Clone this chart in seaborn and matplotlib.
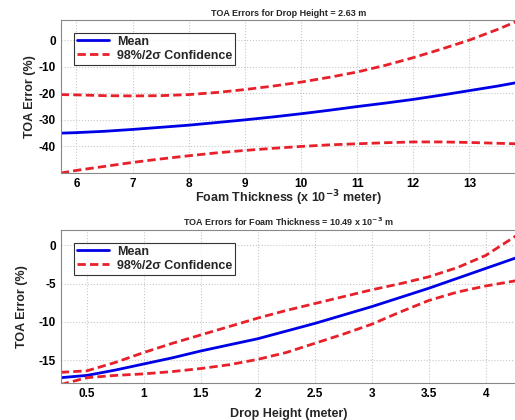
import matplotlib
matplotlib.use("Agg")
import matplotlib.pyplot as plt
import seaborn as sns
import pandas as pd

# Top panel: Foam thickness (x 10^-3 m)
foam_x = [5.72, 6.0, 6.5, 7.0, 7.5, 8.0, 8.5, 9.0, 9.5, 10.0, 10.5, 11.0, 11.5, 12.0, 12.5, 13.0, 13.5, 13.84]
foam_mean = [-35.0, -34.8, -34.3, -33.6, -32.8, -32.0, -31.0, -30.0, -28.9, -27.7, -26.4, -25.0, -23.7, -22.3, -20.7, -19.0, -17.3, -16.0]
foam_upper = [-20.5, -20.6, -20.9, -21.0, -20.9, -20.5, -19.7, -18.6, -17.3, -15.8, -14.0, -12.0, -9.5, -6.6, -3.4, 0.0, 4.0, 7.0]
foam_lower = [-50.0, -49.0, -47.5, -46.0, -44.7, -43.5, -42.4, -41.5, -40.7, -40.0, -39.4, -39.0, -38.6, -38.3, -38.3, -38.5, -38.8, -39.0]

# Bottom panel: Drop height (m)
drop_x = [0.27, 0.5, 0.75, 1.0, 1.25, 1.5, 1.75, 2.0, 2.25, 2.5, 2.75, 3.0, 3.25, 3.5, 3.75, 4.0, 4.27]
drop_mean = [-17.3, -17.0, -16.3, -15.5, -14.7, -13.8, -13.0, -12.2, -11.2, -10.2, -9.1, -8.0, -6.8, -5.6, -4.3, -3.0, -1.6]
drop_upper = [-16.6, -16.4, -15.3, -14.0, -12.8, -11.7, -10.6, -9.5, -8.5, -7.6, -6.7, -5.8, -5.0, -4.1, -2.9, -1.3, 1.3]
drop_lower = [-18.2, -17.3, -17.0, -16.8, -16.5, -16.1, -15.6, -14.9, -14.0, -12.8, -11.6, -10.3, -8.7, -7.2, -6.1, -5.3, -4.6]

sns.set_style("white")
plt.rcParams['font.family'] = ['Liberation Sans', 'DejaVu Sans']
plt.rcParams['font.weight'] = 'bold'
plt.rcParams['axes.labelweight'] = 'bold'
plt.rcParams['axes.titleweight'] = 'bold'
plt.rcParams['axes.unicode_minus'] = False

fig = plt.figure(figsize=(5.15, 4.2), dpi=100)
ax1 = fig.add_axes([0.118, 0.588, 0.885, 0.364])
ax2 = fig.add_axes([0.118, 0.088, 0.885, 0.364])


def draw(ax, x, mean, upper, lower):
    df = pd.DataFrame({"x": x, "mean": mean, "upper": upper, "lower": lower})
    sns.lineplot(data=df, x="x", y="mean", ax=ax, color="#0000e6", lw=2, label="Mean")
    sns.lineplot(data=df, x="x", y="upper", ax=ax, color="#e8202a", lw=2,
                 linestyle=(0, (3, 1.5)), label="98%/2σ Confidence")
    sns.lineplot(data=df, x="x", y="lower", ax=ax, color="#e8202a", lw=2,
                 linestyle=(0, (3, 1.5)), legend=False)
    ax.grid(True, color="#c8c8c8", linestyle=":", linewidth=0.8)
    for s in ax.spines.values():
        s.set_color("#888888")
        s.set_linewidth(0.8)
    ax.tick_params(axis="both", labelsize=8.5, direction="in", length=3, colors="black")
    leg = ax.legend(loc="upper left", fontsize=9, frameon=True, fancybox=False,
                    borderpad=0.25, handlelength=2.6, labelspacing=0.15,
                    handletextpad=0.6, bbox_to_anchor=(0.015, 0.96))
    leg.get_frame().set_edgecolor("black")
    leg.get_frame().set_linewidth(0.8)


draw(ax1, foam_x, foam_mean, foam_upper, foam_lower)
ax1.set_xlim(5.72, 13.84)
ax1.set_ylim(-50, 7.5)
ax1.set_xticks([6, 7, 8, 9, 10, 11, 12, 13])
ax1.set_yticks([0, -10, -20, -30, -40])
ax1.set_xlabel("Foam Thickness (x 10$^{\\mathbf{-3}}$ meter)", fontsize=9, labelpad=-1)
ax1.set_ylabel("TOA Error (%)", fontsize=9, labelpad=2)
ax1.set_title("TOA Errors for Drop Height = 2.63 m", fontsize=6.5, pad=3)

draw(ax2, drop_x, drop_mean, drop_upper, drop_lower)
ax2.set_xlim(0.27, 4.27)
ax2.set_ylim(-18, 2)
ax2.set_xticks([0.5, 1, 1.5, 2, 2.5, 3, 3.5, 4])
ax2.set_xticklabels(["0.5", "1", "1.5", "2", "2.5", "3", "3.5", "4"])
ax2.set_yticks([0, -5, -10, -15])
ax2.set_xlabel("Drop Height (meter)", fontsize=9, labelpad=6)
ax2.set_ylabel("TOA Error (%)", fontsize=9, labelpad=8)
ax2.set_title("TOA Errors for Foam Thickness = 10.49 x 10$^{\\mathbf{-3}}$ m", fontsize=6.5, pad=3)

fig.savefig("out.png", dpi=100)
